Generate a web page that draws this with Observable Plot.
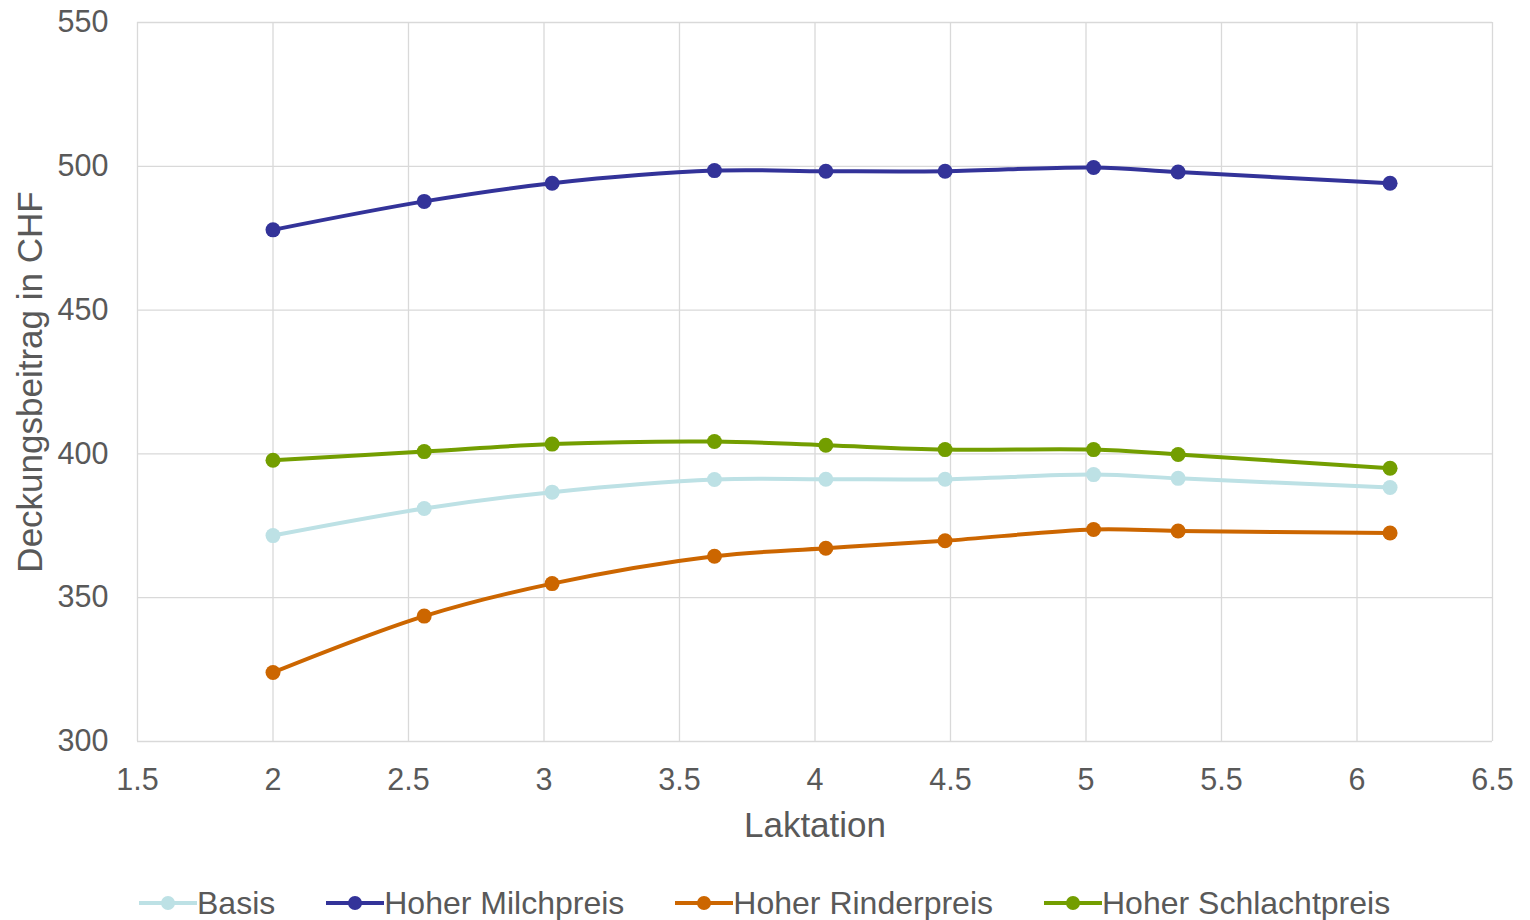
<!DOCTYPE html>
<html>
<head>
<meta charset="utf-8">
<script src="https://cdn.jsdelivr.net/npm/d3@7"></script>
<script src="https://cdn.jsdelivr.net/npm/@observablehq/plot@0.6"></script>
<style>
  html, body { margin: 0; padding: 0; background: #fff; }
  body { font-family: "Liberation Sans", Arial, sans-serif; width: 1530px; overflow: hidden; }
  #legend { display: flex; align-items: center; margin-left: 139px; margin-top: 23px; height: 40px; gap: 51px; color: #595959; font-size: 32px; }
  .item { display: flex; align-items: center; }
  .item svg { margin-right: 0px; }
</style>
</head>
<body>
<div id="chart"></div>
<div id="legend"></div>
<script>
const laktation = [2.0, 2.558, 3.03, 3.629, 4.04, 4.48, 5.028, 5.34, 6.122];
const seriesNames = ["Basis", "Hoher Milchpreis", "Hoher Rinderpreis", "Hoher Schlachtpreis"];
const basis = [371.6, 381.0, 386.7, 391.1, 391.2, 391.2, 392.8, 391.5, 388.3];
const milchpreis = [477.9, 487.8, 494.1, 498.5, 498.3, 498.3, 499.6, 498.0, 494.1];
const rinderpreis = [324.0, 343.6, 354.9, 364.4, 367.2, 369.8, 373.7, 373.2, 372.5];
const schlachtpreis = [397.8, 400.8, 403.4, 404.3, 403.0, 401.5, 401.5, 399.8, 395.0];
const colors = ["#BDE1E5", "#333399", "#CC6600", "#739E00"];
const xTicks = [1.5, 2, 2.5, 3, 3.5, 4, 4.5, 5, 5.5, 6, 6.5];
const yTicks = [300, 350, 400, 450, 500, 550];
const xTitle = "Laktation";
const yTitle = "Deckungsbeitrag in CHF";

const valuesList = [basis, milchpreis, rinderpreis, schlachtpreis];
const data = [];
seriesNames.forEach((s, i) => laktation.forEach((x, j) => data.push({series: s, x, y: valuesList[i][j]})));

const chart = Plot.plot({
  width: 1530,
  height: 860,
  marginLeft: 137,
  marginRight: 38,
  marginTop: 22,
  marginBottom: 119,
  style: {fontFamily: "'Liberation Sans', Arial, sans-serif", background: "#fff"},
  x: {domain: [1.5, 6.5]},
  y: {domain: [300, 550]},
  color: {domain: seriesNames, range: colors},
  marks: [
    Plot.gridX(xTicks, {stroke: "#d9d9d9", strokeOpacity: 1, strokeWidth: 1.3}),
    Plot.gridY(yTicks, {stroke: "#d9d9d9", strokeOpacity: 1, strokeWidth: 1.3}),
    Plot.axisX(xTicks, {tickSize: 0, tickPadding: 27, fontSize: 30.5, fill: "#595959", label: null, tickFormat: d => String(d)}),
    Plot.axisY(yTicks, {tickSize: 0, tickPadding: 29, fontSize: 30.5, fill: "#595959", label: null, tickFormat: d => String(d)}),
    Plot.text([xTitle], {text: d => d, frameAnchor: "bottom", dy: 95, fontSize: 35, fill: "#595959"}),
    Plot.text([yTitle], {text: d => d, frameAnchor: "left", textAnchor: "middle", dx: -107, rotate: -90, fontSize: 35, fill: "#595959"}),
    Plot.line(data, {x: "x", y: "y", z: "series", stroke: "series", strokeWidth: 4, curve: "catmull-rom"}),
    Plot.dot(data, {x: "x", y: "y", fill: "series", r: 7.5})
  ]
});
document.getElementById("chart").appendChild(chart);

const legend = document.getElementById("legend");
seriesNames.forEach((s, i) => {
  const item = document.createElement("div");
  item.className = "item";
  item.innerHTML = `<svg width="58" height="20"><line x1="0" x2="58" y1="10" y2="10" stroke="${colors[i]}" stroke-width="4"/><circle cx="29" cy="10" r="7" fill="${colors[i]}"/></svg><span>${s}</span>`;
  legend.appendChild(item);
});
</script>
</body>
</html>
